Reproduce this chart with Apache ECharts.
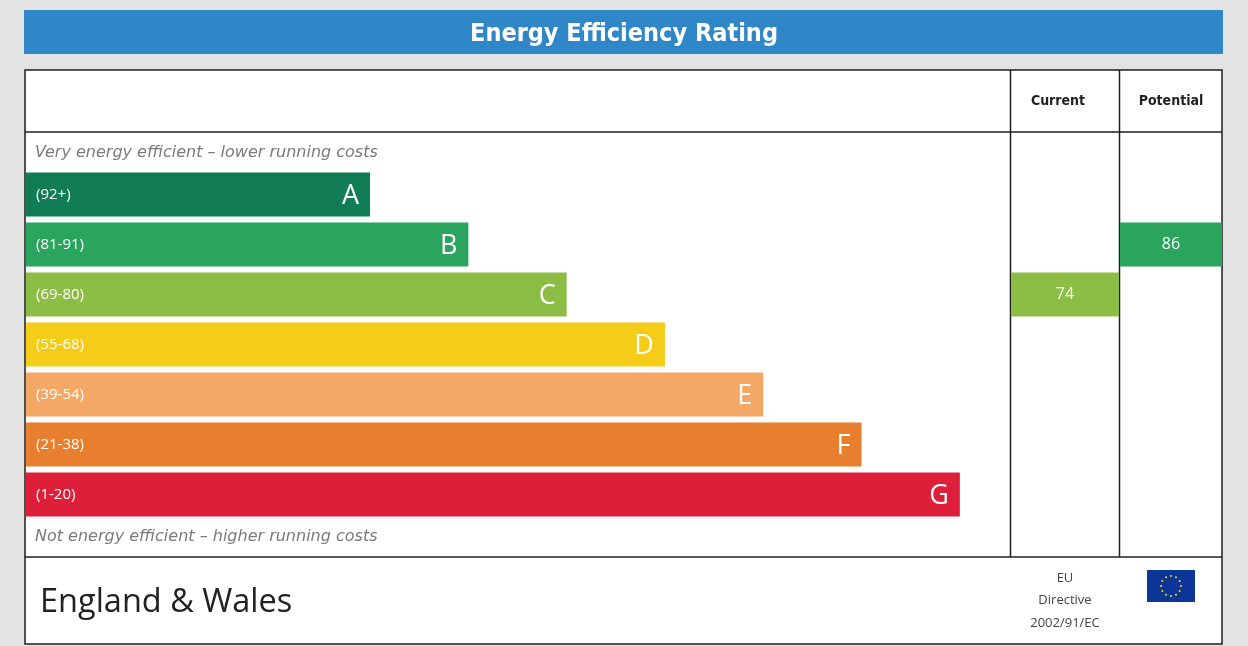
<!DOCTYPE html>
<html>
<head>
<meta charset="utf-8">
<script src="https://cdn.jsdelivr.net/npm/echarts@6/dist/echarts.min.js"></script>
<style>
  html, body { margin: 0; padding: 0; background: #e3e3e3; }
  #chart { width: 1248px; height: 646px; }
</style>
</head>
<body>
<div id="chart"></div>
<script>
// 数据
var bands = ["A", "B", "C", "D", "E", "F", "G"];
var ranges = ["(92+)", "(81-91)", "(69-80)", "(55-68)", "(39-54)", "(21-38)", "(1-20)"];
var bandLength = [35, 45, 55, 65, 75, 85, 95];
var bandColors = ["#117d55", "#2ba55d", "#8cbd45", "#f5cc18", "#f3a865", "#e87f2f", "#de1f3a"];
var bandMin = [92, 81, 69, 55, 39, 21, 1];
var currentRating = 74;
var potentialRating = 86;

var font = "Open Sans";
var myChart = echarts.init(document.getElementById("chart"));

// 评分落在哪个等级
function bandOf(score) {
    for (var i = 0; i < bandMin.length; i++) {
        if (score >= bandMin[i]) return i;
    }
    return bandMin.length - 1;
}

function markerData(score) {
    var idx = bandOf(score);
    return bands.map(function (b, i) {
        if (i !== idx) return "-";
        return { value: 1, itemStyle: { color: bandColors[i] } };
    });
}

var gridTop = 169.5, gridH = 350;
var lineColor = "#1e1e1e";

// 欧盟旗星星
var stars = [];
for (var k = 0; k < 12; k++) {
    var a = k / 12 * Math.PI * 2;
    stars.push({
        type: "circle",
        shape: { cx: 1171 + Math.cos(a) * 10, cy: 586 + Math.sin(a) * 10, r: 1 },
        style: { fill: "#ffdd00" }
    });
}

var option = {
    backgroundColor: "#e3e3e3",
    animation: false,
    grid: [
        { left: 26, top: gridTop, width: 983, height: gridH },
        { left: 1011, top: gridTop, width: 108, height: gridH },
        { left: 1120, top: gridTop, width: 102, height: gridH }
    ],
    xAxis: [
        { gridIndex: 0, type: "value", min: 0, max: 100, show: false },
        { gridIndex: 1, type: "value", min: 0, max: 1, show: false },
        { gridIndex: 2, type: "value", min: 0, max: 1, show: false }
    ],
    yAxis: [0, 1, 2].map(function (g) {
        return { gridIndex: g, type: "category", data: bands, inverse: true, show: false };
    }),
    graphic: [
        // 标题栏
        { type: "rect", shape: { x: 24, y: 10, width: 1199, height: 44 }, style: { fill: "#2f87c7" }, z: 0 },
        { type: "text", x: 624, y: 34, style: { text: "Energy Efficiency Rating", fill: "#fff", font: "bold 25px 'DejaVu Sans Condensed'", align: "center", verticalAlign: "middle" } },
        // 外框
        { type: "rect", shape: { x: 25, y: 70, width: 1197, height: 574 }, style: { fill: "#fff", stroke: lineColor, lineWidth: 1.5 }, z: -1 },
        { type: "line", shape: { x1: 25, y1: 132, x2: 1010, y2: 132 }, style: { stroke: lineColor, lineWidth: 1.5 } },
        { type: "line", shape: { x1: 1010, y1: 132, x2: 1222, y2: 132 }, style: { stroke: lineColor, lineWidth: 1.5 } },
        { type: "line", shape: { x1: 1010.5, y1: 70, x2: 1010.5, y2: 557 }, style: { stroke: lineColor, lineWidth: 1.5 } },
        { type: "line", shape: { x1: 1119.5, y1: 70, x2: 1119.5, y2: 557 }, style: { stroke: lineColor, lineWidth: 1.5 } },
        { type: "line", shape: { x1: 25, y1: 557, x2: 1222, y2: 557 }, style: { stroke: lineColor, lineWidth: 1.5 } },
        { type: "text", x: 1058, y: 101, style: { text: "Current", fill: "#222", font: "bold 14px 'DejaVu Sans Condensed'", align: "center", verticalAlign: "middle" } },
        { type: "text", x: 1171, y: 101, style: { text: "Potential", fill: "#222", font: "bold 14px 'DejaVu Sans Condensed'", align: "center", verticalAlign: "middle" } },
        { type: "text", x: 35, y: 153, style: { text: "Very energy efficient – lower running costs", fill: "#7a7a7a", font: "italic 16px 'DejaVu Sans'", verticalAlign: "middle" } },
        { type: "text", x: 35, y: 537, style: { text: "Not energy efficient – higher running costs", fill: "#7a7a7a", font: "italic 16px 'DejaVu Sans'", verticalAlign: "middle" } },
        { type: "text", x: 40, y: 603, style: { text: "England & Wales", fill: "#222", font: "32.5px '" + font + "'", verticalAlign: "middle" } },
        { type: "text", x: 1065, y: 578, style: { text: "EU", fill: "#444", font: "13px '" + font + "'", align: "center", verticalAlign: "middle" } },
        { type: "text", x: 1065, y: 600, style: { text: "Directive", fill: "#444", font: "13px '" + font + "'", align: "center", verticalAlign: "middle" } },
        { type: "text", x: 1065, y: 623, style: { text: "2002/91/EC", fill: "#444", font: "13px '" + font + "'", align: "center", verticalAlign: "middle" } },
        { type: "rect", shape: { x: 1147, y: 570, width: 48, height: 32 }, style: { fill: "#0b3596" } }
    ].concat(stars),
    series: [
        {
            type: "bar",
            xAxisIndex: 0, yAxisIndex: 0,
            barWidth: 44,
            data: bandLength.map(function (v, i) {
                return { value: v, itemStyle: { color: bandColors[i] } };
            }),
            label: {
                show: true, position: "insideLeft", distance: 10,
                color: "#fff", fontFamily: font, fontSize: 15,
                formatter: function (p) { return ranges[p.dataIndex]; }
            }
        },
        {
            type: "bar",
            xAxisIndex: 0, yAxisIndex: 0,
            barWidth: 44, barGap: "-100%",
            data: bandLength,
            itemStyle: { color: "transparent" },
            label: {
                show: true, position: "insideRight", distance: 11,
                color: "#fff", fontFamily: font, fontSize: 27,
                offset: [0, 2],
                formatter: function (p) { return bands[p.dataIndex]; }
            }
        },
        {
            type: "bar",
            xAxisIndex: 1, yAxisIndex: 1,
            barWidth: 44,
            data: markerData(currentRating),
            label: { show: true, position: "inside", color: "#fff", fontFamily: font, fontSize: 16, formatter: String(currentRating) }
        },
        {
            type: "bar",
            xAxisIndex: 2, yAxisIndex: 2,
            barWidth: 44,
            data: markerData(potentialRating),
            label: { show: true, position: "inside", color: "#fff", fontFamily: font, fontSize: 16, formatter: String(potentialRating) }
        }
    ]
};

myChart.setOption(option);
</script>
</body>
</html>
